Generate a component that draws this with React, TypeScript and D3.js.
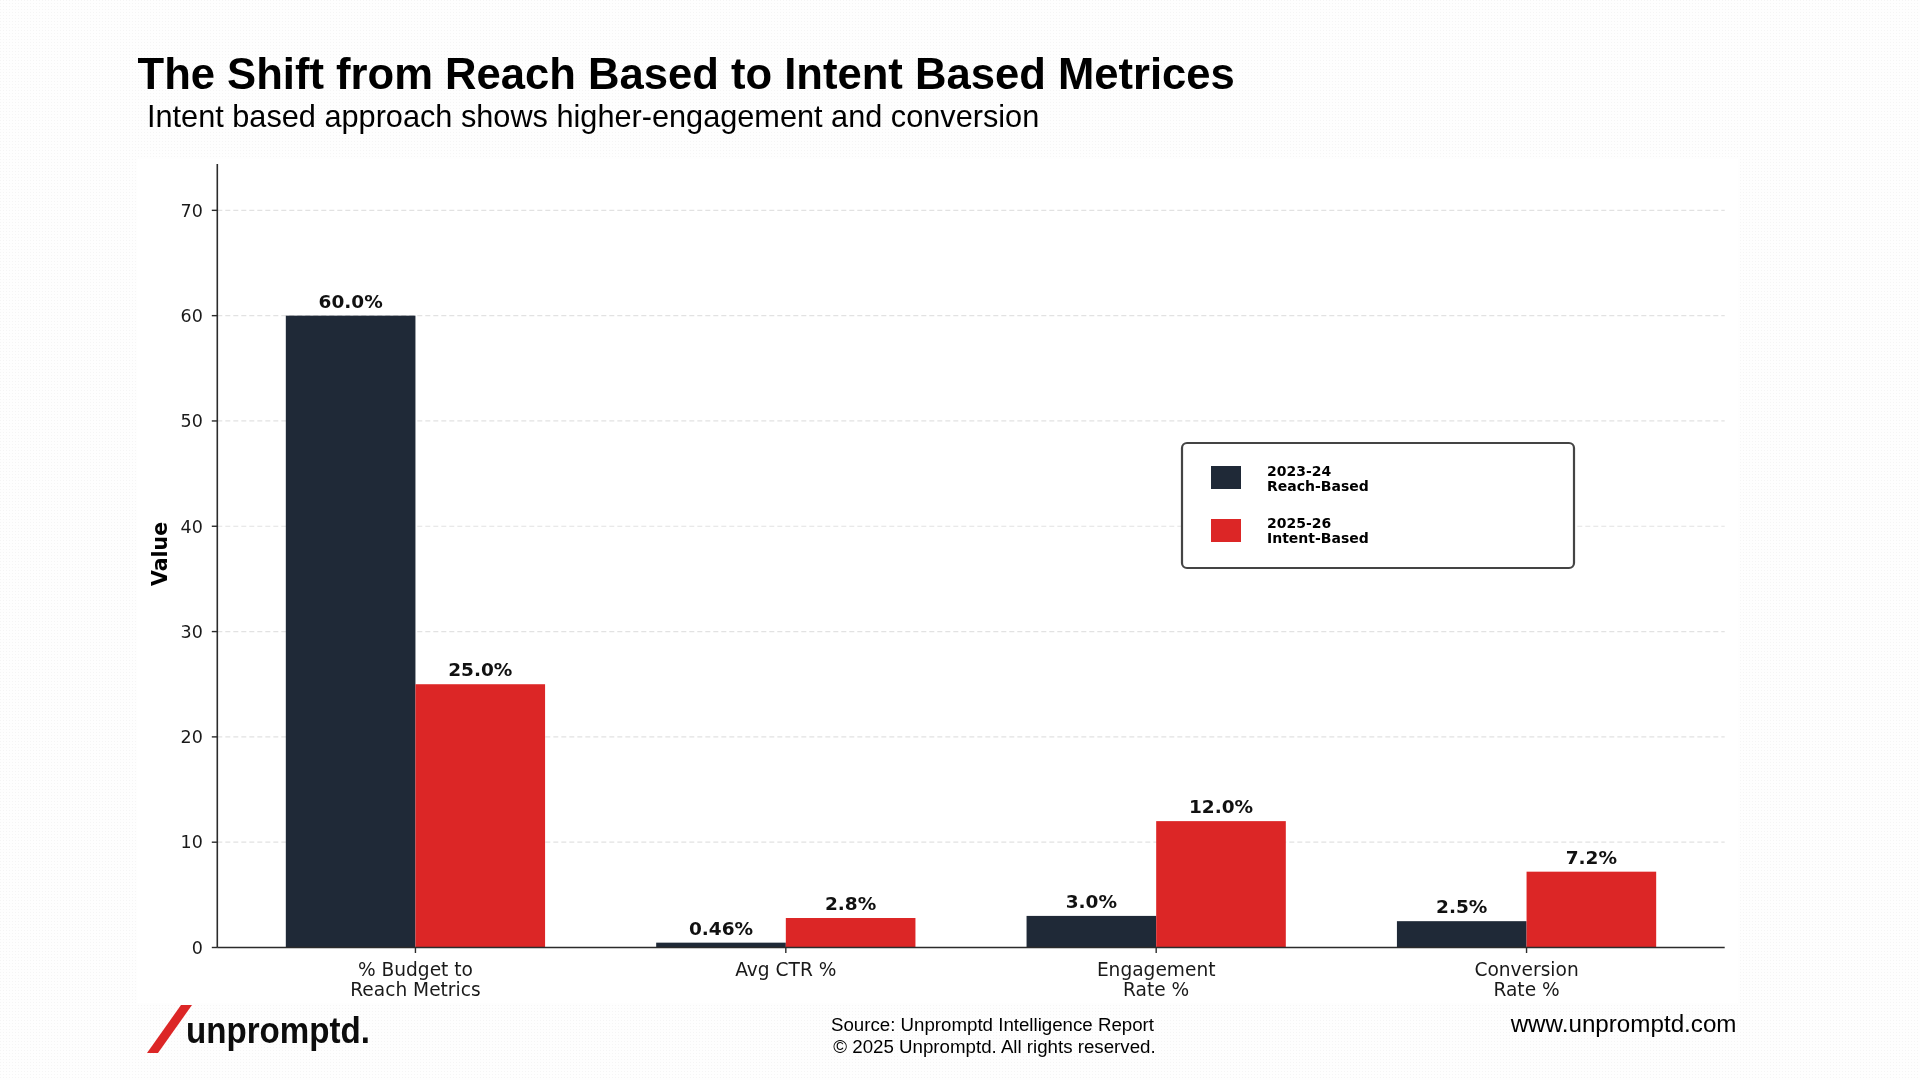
import React from "react";
import * as d3 from "d3";

const categories: string[][] = [
  ["% Budget to", "Reach Metrics"],
  ["Avg CTR %"],
  ["Engagement", "Rate %"],
  ["Conversion", "Rate %"],
];
const reachValues = [60, 0.46, 3.0, 2.5];
const intentValues = [25, 2.8, 12.0, 7.2];
const reachLabels = ["60.0%", "0.46%", "3.0%", "2.5%"];
const intentLabels = ["25.0%", "2.8%", "12.0%", "7.2%"];
const yTicks = [0, 10, 20, 30, 40, 50, 60, 70];
const seriesNames = [
  ["2023-24", "Reach-Based"],
  ["2025-26", "Intent-Based"],
];
const titleText = "The Shift from Reach Based to Intent Based Metrices";
const subtitleText = "Intent based approach shows higher-engagement and conversion";
const sourceLines = ["Source: Unpromptd Intelligence Report", "© 2025 Unpromptd. All rights reserved."];
const siteText = "www.unpromptd.com";

const DARK = "#1f2937";
const RED = "#dc2626";
const CHART_FONT = "'DejaVu Sans', sans-serif";
const HEAD_FONT = "'Liberation Sans', Arial, sans-serif";

export default function App() {
  const W = 1920;
  const H = 1080;
  const x = d3.scaleLinear().domain([-0.535, 3.535]).range([217.3, 1724.7]);
  const y = d3.scaleLinear().domain([0, 74.4]).range([947.5, 164]);
  const bw = 0.35;
  const idx = d3.range(categories.length);

  return (
    <div style={{ position: "fixed", left: 0, top: 0, width: W, height: H }}>
      <svg width={W} height={H} viewBox={`0 0 ${W} ${H}`}>
        <defs>
          <pattern id="dots" width="3" height="3" patternUnits="userSpaceOnUse">
            <rect width="3" height="3" fill="#fefefe" />
            <rect width="1" height="1" fill="#f5f5f5" />
          </pattern>
        </defs>
        <rect x={0} y={0} width={W} height={H} fill="url(#dots)" />
        <rect x={137} y={159} width={1601} height={844} fill="#ffffff" />

        {/* Title */}
        <text x={137.5} y={88.5} fontFamily={HEAD_FONT} fontWeight="bold" fontSize={43.6} fill="#000">
          {titleText}
        </text>
        <text x={147} y={127} fontFamily={HEAD_FONT} fontSize={30.7} fill="#000">
          {subtitleText}
        </text>

        {/* Grid */}
        {yTicks.map((t) =>
          t === 0 ? null : (
            <line
              key={"g" + t}
              x1={x(-0.535)}
              x2={x(3.535)}
              y1={y(t)}
              y2={y(t)}
              stroke="#e2e2e2"
              strokeWidth={1.2}
              strokeDasharray="5 3"
            />
          )
        )}

        {/* Bars */}
        {idx.map((i) => (
          <g key={"b" + i}>
            <rect
              x={x(i - bw)}
              y={y(reachValues[i])}
              width={x(i) - x(i - bw)}
              height={y(0) - y(reachValues[i])}
              fill={DARK}
            />
            <rect
              x={x(i)}
              y={y(intentValues[i])}
              width={x(i + bw) - x(i)}
              height={y(0) - y(intentValues[i])}
              fill={RED}
            />
            <text
              x={x(i - bw / 2)}
              y={y(reachValues[i]) - 8}
              textAnchor="middle"
              fontFamily={CHART_FONT}
              fontWeight="bold"
              fontSize={18.5}
              fill="#111"
            >
              {reachLabels[i]}
            </text>
            <text
              x={x(i + bw / 2)}
              y={y(intentValues[i]) - 8}
              textAnchor="middle"
              fontFamily={CHART_FONT}
              fontWeight="bold"
              fontSize={18.5}
              fill="#111"
            >
              {intentLabels[i]}
            </text>
          </g>
        ))}

        {/* Axes */}
        <line x1={x(-0.535)} x2={x(-0.535)} y1={y(74.4)} y2={y(0)} stroke="#2b2b2b" strokeWidth={1.6} />
        <line x1={x(-0.535)} x2={x(3.535)} y1={y(0)} y2={y(0)} stroke="#2b2b2b" strokeWidth={1.6} />
        {yTicks.map((t) => (
          <g key={"t" + t}>
            <line x1={x(-0.535) - 5.5} x2={x(-0.535)} y1={y(t)} y2={y(t)} stroke="#2b2b2b" strokeWidth={1.4} />
            <text
              x={x(-0.535) - 14.5}
              y={y(t)}
              dy="0.36em"
              textAnchor="end"
              fontFamily={CHART_FONT}
              fontSize={17.5}
              fill="#1a1a1a"
            >
              {t}
            </text>
          </g>
        ))}
        {idx.map((i) => (
          <g key={"xt" + i}>
            <line x1={x(i)} x2={x(i)} y1={y(0)} y2={y(0) + 5.5} stroke="#2b2b2b" strokeWidth={1.4} />
            <text textAnchor="middle" fontFamily={CHART_FONT} fontSize={18.6} fill="#1a1a1a">
              {categories[i].map((line, k) => (
                <tspan key={k} x={x(i)} y={975.7 + k * 20.5}>
                  {line}
                </tspan>
              ))}
            </text>
          </g>
        ))}
        <text
          transform={`translate(167,554) rotate(-90)`}
          textAnchor="middle"
          fontFamily={CHART_FONT}
          fontWeight="bold"
          fontSize={20.5}
          fill="#000"
        >
          Value
        </text>

        {/* Legend */}
        <rect x={1182} y={443} width={392} height={125} rx={5} fill="#fff" stroke="#444" strokeWidth={2.2} />
        {seriesNames.map((s, k) => (
          <g key={"l" + k}>
            <rect x={1211} y={466 + k * 53} width={30} height={23} fill={k === 0 ? DARK : RED} />
            <text fontFamily={CHART_FONT} fontWeight="bold" fontSize={14} fill="#000">
              <tspan x={1267} y={475.5 + k * 52}>
                {s[0]}
              </tspan>
              <tspan x={1267} y={491 + k * 52}>
                {s[1]}
              </tspan>
            </text>
          </g>
        ))}

        {/* Footer */}
        <polygon points="181,1005 192,1005 158,1053 147,1053" fill={RED} />
        <text
          x={186}
          y={1043}
          fontFamily={HEAD_FONT}
          fontWeight="bold"
          fontSize={36}
          textLength={184}
          lengthAdjust="spacingAndGlyphs"
          fill="#0d0d0d"
        >
          unpromptd.
        </text>
        {sourceLines.map((s, k) => (
          <text
            key={"s" + k}
            x={992.5 + k * 2}
            y={1031 + k * 22}
            textAnchor="middle"
            fontFamily={HEAD_FONT}
            fontSize={18.7}
            fill="#000"
          >
            {s}
          </text>
        ))}
        <text x={1736.5} y={1032} textAnchor="end" fontFamily={HEAD_FONT} fontSize={24.2} fill="#000">
          {siteText}
        </text>
      </svg>
    </div>
  );
}
